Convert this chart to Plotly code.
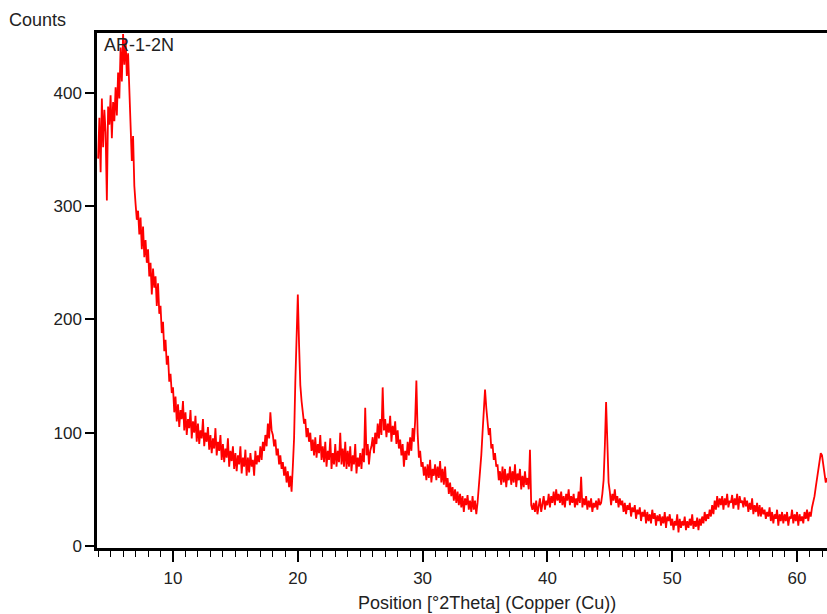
import numpy as np
import plotly.graph_objects as go

# Diffraction pattern, sampled every 0.1 deg 2Theta starting at 4.0
two_theta_start = 4.0
two_theta_step = 0.1
counts = [
    342, 378, 330, 395, 352, 385, 365, 305, 388, 372,   # 4
    398, 360, 392, 375, 405, 380, 418, 395, 440, 410,   # 5
    452, 425, 448, 415, 435, 398, 375, 340, 362, 318,   # 6
    302, 288, 296, 275, 290, 262, 282, 255, 270, 250,   # 7
    262, 238, 250, 222, 245, 228, 238, 212, 232, 205,   # 8
    212, 188, 198, 172, 182, 160, 168, 145, 152, 135,   # 9
    140, 118, 132, 110, 125, 105, 120, 112, 128, 102,   # 10
    118, 98, 112, 104, 120, 95, 110, 100, 115, 92,      # 11
    108, 90, 102, 95, 112, 88, 100, 92, 105, 85,        # 12
    98, 82, 95, 86, 104, 80, 92, 84, 98, 76,            # 13
    90, 74, 86, 78, 95, 70, 84, 75, 88, 68,             # 14
    82, 66, 80, 72, 88, 64, 78, 70, 85, 62,             # 15
    78, 65, 82, 70, 76, 62, 84, 72, 80, 74,             # 16
    88, 76, 92, 84, 98, 88, 108, 95, 118, 102,          # 17
    98, 88, 94, 80, 86, 72, 80, 68, 74, 62,             # 18
    70, 56, 66, 52, 62, 48, 70, 95, 145, 200,           # 19
    222, 178, 142, 128, 118, 108, 112, 96, 104, 92,     # 20
    100, 84, 94, 80, 96, 78, 90, 82, 98, 76,            # 21
    88, 74, 92, 70, 84, 76, 95, 68, 82, 72,             # 22
    90, 70, 84, 74, 100, 72, 86, 70, 92, 68,            # 23
    84, 70, 88, 66, 80, 72, 90, 64, 78, 70,             # 24
    82, 68, 86, 74, 122, 80, 90, 72, 84, 88,            # 25
    96, 82, 100, 90, 108, 95, 112, 98, 140, 102,        # 26
    112, 96, 108, 100, 115, 92, 106, 98, 110, 90,       # 27
    102, 86, 94, 80, 90, 70, 84, 76, 92, 80,            # 28
    96, 84, 104, 92, 110, 146, 100, 78, 84, 70,         # 29
    74, 62, 70, 58, 72, 60, 76, 56, 68, 62,             # 30
    72, 58, 70, 60, 75, 56, 68, 54, 70, 52,             # 31
    60, 46, 56, 44, 52, 40, 50, 38, 48, 36,             # 32
    46, 34, 44, 30, 42, 36, 45, 32, 40, 30,             # 33
    44, 32, 40, 28, 38, 52, 62, 80, 100, 118,           # 34
    138, 122, 112, 98, 104, 86, 90, 76, 82, 70,         # 35
    72, 58, 66, 54, 70, 56, 68, 52, 64, 58,             # 36
    70, 54, 66, 56, 72, 52, 64, 58, 68, 50,             # 37
    62, 52, 66, 54, 60, 50, 85, 36, 32, 38,             # 38
    30, 40, 28, 36, 42, 30, 38, 44, 32, 40,             # 39
    36, 46, 34, 44, 38, 48, 36, 50, 40, 46,             # 40
    38, 48, 36, 44, 34, 46, 40, 50, 36, 44,             # 41
    38, 46, 34, 42, 36, 48, 38, 61, 34, 42,             # 42
    36, 44, 32, 40, 34, 42, 30, 38, 34, 40,             # 43
    32, 42, 36, 38, 46, 58, 88, 127, 92, 56,            # 44
    48, 36, 46, 40, 50, 38, 44, 34, 42, 36,             # 45
    40, 30, 38, 28, 36, 32, 38, 26, 34, 30,             # 46
    36, 24, 32, 28, 34, 22, 30, 26, 32, 20,             # 47
    30, 22, 28, 20, 32, 24, 29, 18, 27, 22,             # 48
    28, 18, 26, 20, 30, 16, 26, 22, 28, 18,             # 49
    24, 14, 22, 18, 28, 12, 24, 16, 22, 18,             # 50
    26, 14, 22, 16, 24, 18, 28, 15, 22, 17,             # 51
    25, 14, 24, 18, 26, 20, 30, 22, 28, 24,             # 52
    32, 26, 36, 28, 40, 32, 44, 34, 42, 36,             # 53
    44, 32, 42, 36, 46, 34, 40, 38, 45, 33,             # 54
    42, 36, 46, 32, 44, 38, 40, 34, 43, 35,             # 55
    40, 30, 38, 32, 42, 28, 36, 30, 38, 26,             # 56
    36, 26, 34, 28, 32, 24, 30, 26, 34, 22,             # 57
    30, 20, 28, 24, 32, 18, 28, 22, 30, 20,             # 58
    28, 22, 30, 18, 26, 24, 32, 20, 28, 22,             # 59
    30, 18, 28, 22, 26, 20, 30, 24, 32, 22,             # 60
    30, 26, 34, 38, 44, 52, 60, 68, 76, 82,             # 61
    80, 70, 62, 56, 60,                                 # 62
]

x_tick_vals = [10, 20, 30, 40, 50, 60]
y_tick_vals = [0, 100, 200, 300, 400]
sample_name = "AR-1-2N"
y_label = "Counts"
x_label = "Position [°2Theta] (Copper (Cu))"

two_theta = two_theta_start + two_theta_step * np.arange(len(counts))

FONT = "Liberation Sans, Arial, sans-serif"
FIG_W, FIG_H = 827, 614
PLOT_L, PLOT_T, PLOT_R, PLOT_B = 97, 33, 827, 548  # in window pixels
PW, PH = PLOT_R - PLOT_L, PLOT_B - PLOT_T


def px(xw):
    return (xw - PLOT_L) / PW


def py(yw):
    return (PLOT_B - yw) / PH


fig = go.Figure()
fig.add_trace(go.Scatter(
    x=two_theta, y=counts, mode="lines",
    line=dict(color="#ff0000", width=1.8),
    showlegend=False, hoverinfo="skip",
))

fig.update_layout(
    width=FIG_W, height=FIG_H,
    margin=dict(l=PLOT_L, r=FIG_W - PLOT_R, t=PLOT_T, b=FIG_H - PLOT_B, pad=0),
    paper_bgcolor="white", plot_bgcolor="white",
    font=dict(family=FONT, size=17, color="#222"),
)

fig.update_xaxes(
    range=[3.91, 62.40],
    tickvals=x_tick_vals, ticktext=[str(v) for v in x_tick_vals],
    ticks="outside", ticklen=11, tickwidth=1.5, tickcolor="black",
    minor=dict(dtick=1, tick0=0, ticks="outside", ticklen=6, tickwidth=1, tickcolor="black", showgrid=False),
    showline=True, linecolor="black", linewidth=2.5, mirror=True,
    showgrid=False, zeroline=False,
    tickfont=dict(family=FONT, size=17, color="#222"),
    ticklabelstandoff=2,
)
fig.update_yaxes(
    range=[-1.8, 452.9],
    tickvals=y_tick_vals, ticktext=[str(v) for v in y_tick_vals],
    ticks="outside", ticklen=9, tickwidth=1.5, tickcolor="black",
    showline=True, linecolor="black", linewidth=2.5, mirror=False,
    showgrid=False, zeroline=False,
    tickfont=dict(family=FONT, size=17, color="#222"),
)

fig.add_annotation(text=y_label, xref="paper", yref="paper",
                   x=px(7), y=py(20),
                   xanchor="left", yanchor="middle", showarrow=False,
                   font=dict(family=FONT, size=18, color="#222"))
fig.add_annotation(text=sample_name, xref="paper", yref="paper",
                   x=px(102), y=py(45),
                   xanchor="left", yanchor="middle", showarrow=False,
                   font=dict(family=FONT, size=18, color="#222"))
fig.add_annotation(text=x_label, xref="paper", yref="paper",
                   x=px(487), y=py(603),
                   xanchor="center", yanchor="middle", showarrow=False,
                   font=dict(family=FONT, size=18, color="#222"))

# remove the default page margin so the figure fills the window exactly
fig.write_html(
    "out.html",
    config={"displayModeBar": False},
    post_script="document.body.style.margin='0';document.documentElement.style.overflow='hidden';",
)
